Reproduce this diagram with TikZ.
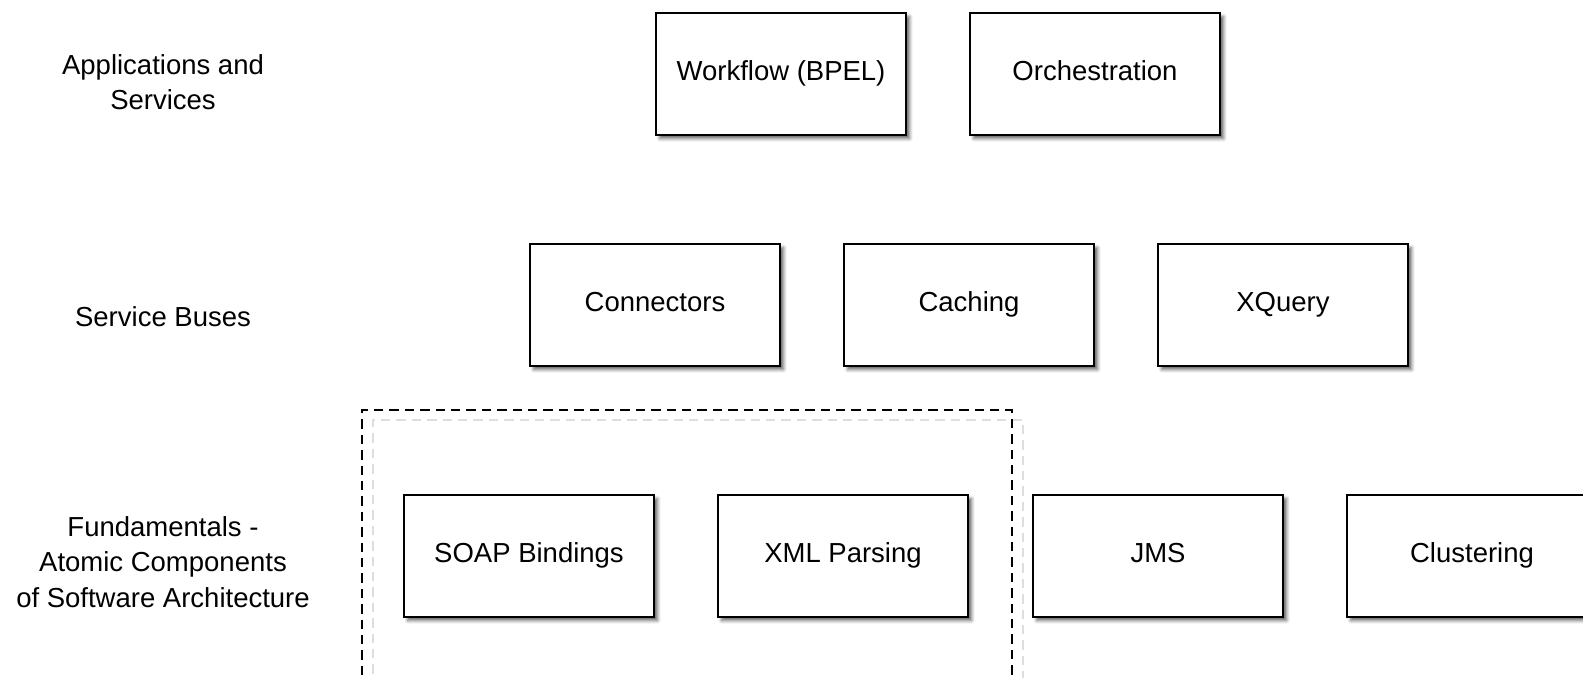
\documentclass[tikz,border=0pt]{standalone}
\usepackage{fontspec}
\setmainfont{Liberation Sans}
\usetikzlibrary{shadows.blur}
\tikzset{
  comp/.style={draw=black, line width=1.1pt, fill=white, minimum width=125pt, minimum height=61pt,
    inner sep=0pt, text height=9.9pt, text depth=3.2pt, font=\fontsize{13.75pt}{17pt}\selectfont,
    blur shadow={shadow xshift=1.8pt, shadow yshift=-1.8pt, shadow blur radius=1.6pt, shadow opacity=60}},
  layer/.style={align=center, font=\fontsize{13.75pt}{17.75pt}\selectfont, inner sep=0pt},
  grp/.style={draw=black, line width=1pt, dash pattern=on 4.7pt off 3pt},
  grpshadow/.style={draw=black!13, line width=1pt, dash pattern=on 4.7pt off 3pt}
}
\begin{document}
\begin{tikzpicture}[x=0.5pt,y=-0.5pt]
\useasboundingbox (0,0) rectangle (1583,678);
\clip (0,0) rectangle (1583,678);
% group frame and its shadow
\draw[grpshadow] (373,720) -- (373,420) -- (1023,420) -- (1023,720);
\node (group) [grp, minimum width=325pt, minimum height=200pt, inner sep=0pt, anchor=north west] at (361,409) {};
% layer labels
\node (l1) [layer] at (163,82) {Applications and\\Services};
\node (l2) [layer] at (163,317) {Service Buses};
\node (l3) [layer] at (163,562) {Fundamentals -\\Atomic Components\\of Software Architecture};
% components
\node (wf) [comp] at (781,74) {Workflow (BPEL)};
\node (or) [comp] at (1095,74) {Orchestration};
\node (co) [comp] at (655,305) {Connectors};
\node (ca) [comp] at (969,305) {Caching};
\node (xq) [comp] at (1283,305) {XQuery};
\node (so) [comp] at (529,556) {SOAP Bindings};
\node (xm) [comp] at (843,556) {XML Parsing};
\node (jm) [comp] at (1158,556) {JMS};
\node (cl) [comp] at (1472,556) {Clustering};
\end{tikzpicture}
\end{document}
